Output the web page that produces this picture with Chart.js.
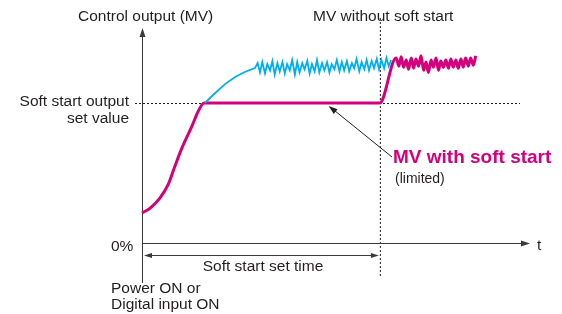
<!DOCTYPE HTML>
<html>
<head>
<script src="https://cdn.jsdelivr.net/npm/chart.js@4/dist/chart.umd.min.js"></script>
<style>
  body { margin: 0; background: #fff; }
</style>
</head>
<body>
<canvas id="line-chart" width="562" height="314"></canvas>

<script>
// time axis 0..100, output 0..100 (%)
var setValue = 67.3;
var setTime = 61.3;

// MV with soft start: S-curve up to set value, held, then released
var softX = [0, 2.1, 4.6, 6.7, 8.5, 10.3, 12.9, 14.4, 16.0, 61.3, 65.5,
  66.2, 66.8, 67.4, 68.1, 68.7, 69.4, 70.0, 70.6, 71.3, 71.9, 72.6, 73.2, 73.8,
  74.5, 75.1, 75.8, 76.4, 77.0, 77.7, 78.3, 79.0, 79.6, 80.2, 80.9, 81.5, 82.2,
  82.8, 83.4, 84.1, 84.7, 85.4, 86.0];
var softY = [14.4, 16.8, 21.6, 27.9, 37, 45.7, 56.3, 63, 67.3, 67.3, 89,
  85, 89.5, 84.5, 88, 83.5, 89, 84, 88.5, 85, 90, 83, 87, 82,
  88, 84.5, 89, 83, 87.5, 84.5, 88, 84, 88.5, 84.5, 88, 84, 88.5,
  84.5, 89, 85, 89, 85.5, 90];

// MV without soft start
var freeX = [16.2, 18.8, 21.4, 24.0, 26.5, 29.1,
  29.8, 30.4, 31.0, 31.7, 32.3, 33.0, 33.6, 34.2, 34.9, 35.5, 36.2, 36.8, 37.4,
  38.1, 38.7, 39.4, 40.0, 40.6, 41.3, 41.9, 42.6, 43.2, 43.8, 44.5, 45.1, 45.7,
  46.4, 47.0, 47.7, 48.3, 48.9, 49.6, 50.2, 50.9, 51.5, 52.1, 52.8, 53.4, 54.1,
  54.7, 55.3, 56.0, 56.6, 57.3, 57.9, 58.5, 59.2, 59.8, 60.5, 61.1, 61.7, 62.4,
  63.0, 63.6, 64.2];
var freeY = [67.3, 72, 76.4, 79.8, 82.2, 84.1,
  86.5, 82, 87, 81.5, 86, 83, 87.5, 81, 86.5, 82.5, 87, 81.5, 86,
  83, 88, 81, 87, 82, 86.5, 83.5, 87.5, 81.5, 86, 82.5, 88, 82,
  86.5, 83, 87, 82, 86, 83.5, 88, 82.5, 87, 83, 87.5, 82.5, 86.5,
  84, 88.5, 82.5, 87, 83.5, 88, 83, 87.5, 84, 88.5, 83.5, 88, 84,
  89, 85, 88];

function pts(xs, ys) {
  var out = [];
  for (var i = 0; i < xs.length; i++) out.push({x: xs[i], y: ys[i]});
  return out;
}

var FONT = '"Liberation Sans", Arial, sans-serif';
var INK = '#231f20';
var MAGENTA = '#d3007c';
var CYAN = '#00aeef';

function arrowHead(ctx, x, y, ang, len, wid) {
  ctx.beginPath();
  ctx.moveTo(x, y);
  ctx.lineTo(x - len * Math.cos(ang) + wid * Math.sin(ang), y - len * Math.sin(ang) - wid * Math.cos(ang));
  ctx.lineTo(x - len * Math.cos(ang) - wid * Math.sin(ang), y - len * Math.sin(ang) + wid * Math.cos(ang));
  ctx.closePath();
  ctx.fill();
}

// axes, guide lines and labels
var diagram = {
  id: 'diagram',
  beforeDatasetsDraw: function(chart) {
    var ctx = chart.ctx;
    var xs = chart.scales.x, ys = chart.scales.y;
    var x0 = xs.getPixelForValue(0), y0 = ys.getPixelForValue(0);
    var xEnd = xs.getPixelForValue(100);
    var ySet = ys.getPixelForValue(setValue);
    var xSet = xs.getPixelForValue(setTime);
    ctx.save();
    // dotted guides
    ctx.strokeStyle = INK;
    ctx.lineWidth = 1;
    ctx.setLineDash([2, 2]);
    ctx.beginPath();
    ctx.moveTo(x0 - 7, ySet + 0.5); ctx.lineTo(xEnd - 10, ySet + 0.5);
    ctx.moveTo(xSet + 0.5, 18); ctx.lineTo(xSet + 0.5, 276);
    ctx.stroke();
    ctx.setLineDash([]);
    // axes
    ctx.strokeStyle = '#3a3a3a';
    ctx.fillStyle = '#3a3a3a';
    ctx.beginPath();
    ctx.moveTo(x0 + 0.5, 283); ctx.lineTo(x0 + 0.5, 34);
    ctx.moveTo(x0, y0 + 0.5); ctx.lineTo(xEnd - 5, y0 + 0.5);
    ctx.stroke();
    arrowHead(ctx, x0 + 0.5, 28, -Math.PI / 2, 9, 3);
    arrowHead(ctx, xEnd, y0 + 0.5, 0, 9, 3);
    // soft start set time span
    ctx.beginPath();
    ctx.moveTo(x0 + 4, 255.5); ctx.lineTo(xSet - 4, 255.5);
    ctx.stroke();
    arrowHead(ctx, x0 + 2, 255.5, Math.PI, 8, 2.5);
    arrowHead(ctx, xSet - 1, 255.5, 0, 8, 2.5);
    ctx.restore();
  },
  afterDatasetsDraw: function(chart) {
    var ctx = chart.ctx;
    ctx.save();
    // pointer to limited line
    ctx.strokeStyle = INK;
    ctx.fillStyle = INK;
    ctx.lineWidth = 1;
    var ax = chart.scales.x.getPixelForValue(48.1), ay = chart.scales.y.getPixelForValue(setValue) + 3;
    ctx.beginPath();
    ctx.moveTo(392, 157); ctx.lineTo(ax + 4, ay + 3);
    ctx.stroke();
    arrowHead(ctx, ax, ay, Math.atan2(ay - 157, ax - 392), 9, 3);

    ctx.fillStyle = INK;
    ctx.font = '15.5px ' + FONT;
    ctx.textBaseline = 'middle';
    ctx.textAlign = 'left';
    ctx.fillText('Control output (MV)', 78, 17);
    ctx.fillText('MV without soft start', 313, 17);
    ctx.fillText('0%', 111, 247);
    ctx.fillText('t', 537, 246);
    ctx.fillText('Power ON or', 111, 289);
    ctx.fillText('Digital input ON', 111, 305);
    ctx.textAlign = 'right';
    ctx.fillText('Soft start output', 129, 102);
    ctx.fillText('set value', 129, 119);
    ctx.textAlign = 'center';
    ctx.fillText('Soft start set time', 263, 267);
    ctx.textAlign = 'left';
    ctx.fillStyle = MAGENTA;
    ctx.font = 'bold 19px ' + FONT;
    ctx.fillText('MV with soft start', 393, 158);
    ctx.fillStyle = INK;
    ctx.font = '14px ' + FONT;
    ctx.fillText('(limited)', 395, 179);
    ctx.restore();
  }
};

new Chart(document.getElementById('line-chart'), {
  type: 'line',
  data: {
    datasets: [{
      data: pts(freeX, freeY),
      borderColor: CYAN,
      borderWidth: 1.8,
      pointRadius: 0,
      tension: 0,
      fill: false
    }, {
      data: pts(softX, softY),
      borderColor: MAGENTA,
      borderWidth: 3,
      pointRadius: 0,
      cubicInterpolationMode: 'monotone',
      fill: false
    }]
  },
  options: {
    responsive: false,
    animation: false,
    clip: false,
    layout: { padding: { left: 142, right: 32, top: 35, bottom: 71 } },
    plugins: { legend: { display: false }, tooltip: { enabled: false }, title: { display: false } },
    scales: {
      x: { type: 'linear', min: 0, max: 100, display: false },
      y: { type: 'linear', min: 0, max: 100, display: false }
    }
  },
  plugins: [diagram]
});
</script>
</body>
</html>
